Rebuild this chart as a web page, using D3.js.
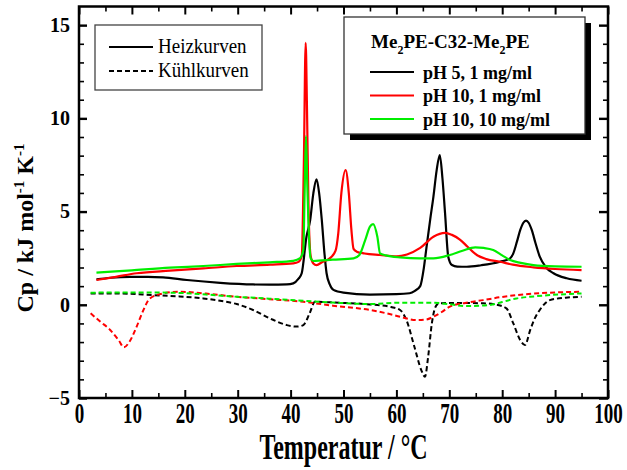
<!DOCTYPE html>
<html>
<head>
<meta charset="utf-8">
<script src="https://cdn.jsdelivr.net/npm/d3@7"></script>
<style>
  html, body { margin: 0; padding: 0; background: #fff; }
  svg { display: block; }
  text { font-family: "Liberation Serif", "Times New Roman", serif; }
</style>
</head>
<body>
<svg id="chart" width="627" height="470"></svg>
<script>
// ---- Data: DSC heat capacity curves (temperature in °C, Cp in kJ mol^-1 K^-1) ----

// Heating scans
const heatPH5T   = [3.3, 6, 9.6, 13, 15.9, 20.4, 26.7, 32.9, 36, 39.3, 40.5, 41.5, 42.1, 43.0, 43.7, 44.3, 44.9, 45.4, 45.9, 46.4, 46.8, 47.4, 48.1, 50, 55, 60, 62.5, 63.5, 64.5, 65.2, 65.7, 66.4, 67, 67.6, 68.2, 68.7, 69.2, 69.8, 70.5, 71.5, 73.3, 76, 79.6, 81.5, 82.1, 82.8, 83.4, 84, 84.5, 85, 85.6, 86.3, 87.1, 88.3, 89.7, 92.2, 95];
const heatPH5Cp  = [1.36, 1.45, 1.50, 1.50, 1.47, 1.33, 1.18, 1.09, 1.08, 1.09, 1.15, 1.40, 1.69, 3.65, 4.54, 5.98, 6.73, 5.98, 4.54, 2.76, 1.69, 1.10, 0.80, 0.65, 0.55, 0.57, 0.62, 0.75, 1.0, 2.0, 3.11, 4.6, 5.8, 7.2, 8.03, 6.8, 4.9, 2.58, 2.13, 2.05, 2.04, 2.12, 2.31, 2.49, 2.76, 3.4, 4.0, 4.4, 4.51, 4.4, 4.0, 3.3, 2.58, 2.0, 1.69, 1.42, 1.29];

const heatPH10aT  = [3.3, 7, 10.9, 17.2, 23.5, 29.8, 36.1, 40.5, 41.5, 42.1, 42.5, 42.85, 43.1, 43.4, 43.8, 44.3, 44.9, 46, 47.4, 48.5, 49.0, 49.6, 50.4, 51.0, 51.5, 51.9, 52.5, 54, 56.9, 60, 62, 64.5, 67, 69.2, 70.5, 72, 73.5, 75.2, 77, 79.6, 82, 85.9, 90, 95];
const heatPH10aCp = [1.33, 1.50, 1.69, 1.83, 1.95, 2.08, 2.15, 2.22, 2.30, 2.60, 7.5, 14.05, 10.5, 5.0, 2.6, 2.22, 2.13, 2.30, 2.49, 2.9, 3.8, 6.0, 7.22, 6.0, 4.0, 3.0, 2.85, 2.75, 2.67, 2.6, 2.7, 3.05, 3.65, 3.86, 3.75, 3.5, 3.1, 2.67, 2.45, 2.31, 2.15, 2.01, 1.92, 1.86];

const heatPH10bT  = [3.3, 10, 17.2, 23.5, 29.8, 36, 40.5, 41.8, 42.4, 42.65, 42.9, 43.15, 43.4, 43.8, 44.3, 48, 51.9, 53, 54.1, 55, 55.6, 56.4, 56.9, 58, 60.7, 64.5, 67, 70.1, 72.5, 74.9, 76.5, 78.3, 80, 81.5, 83.5, 85.9, 90, 95];
const heatPH10bCp = [1.72, 1.85, 1.99, 2.08, 2.19, 2.28, 2.36, 2.50, 2.94, 6.0, 9.05, 6.5, 4.19, 2.49, 2.35, 2.42, 2.49, 2.67, 3.47, 4.19, 4.33, 3.65, 2.76, 2.65, 2.54, 2.49, 2.49, 2.67, 2.9, 3.08, 3.05, 2.94, 2.65, 2.40, 2.25, 2.13, 2.06, 2.04];

// Cooling scans
const coolPH5T   = [2.2, 8, 14, 19, 23.5, 27, 29.8, 32.9, 36.1, 39.3, 41.2, 42.4, 43.6, 44.6, 46, 50, 55, 59, 60.7, 61.9, 63.4, 64.7, 65.4, 66, 66.7, 67.6, 68.2, 72, 76.4, 79, 80.8, 82.1, 83.4, 84.3, 85.3, 86.2, 87.1, 89, 92, 95];
const coolPH5Cp  = [0.61, 0.60, 0.52, 0.45, 0.34, 0.20, 0.04, -0.28, -0.73, -1.09, -1.17, -1.09, -0.46, 0.16, 0.15, 0.10, 0.02, -0.12, -0.28, -0.82, -2.25, -3.5, -3.86, -2.79, -1.0, -0.01, 0.08, 0.10, 0.08, 0.0, -0.19, -1.0, -1.89, -2.16, -1.35, -0.7, -0.28, 0.25, 0.38, 0.43];

const coolPH10aT  = [2.2, 4, 5.9, 7.5, 8.5, 9.5, 10.9, 12, 13.4, 15.9, 19.1, 24, 29.8, 36, 42.4, 48, 55, 58, 60.7, 63.8, 65.5, 67, 68.5, 70.1, 73, 76.4, 79.5, 82.7, 86, 89, 92, 95];
const coolPH10aCp = [-0.46, -0.9, -1.35, -1.9, -2.28, -2.0, -1.17, -0.4, 0.34, 0.61, 0.70, 0.60, 0.43, 0.30, 0.16, -0.05, -0.28, -0.45, -0.64, -0.82, -0.80, -0.64, -0.40, -0.10, 0.10, 0.25, 0.40, 0.52, 0.60, 0.65, 0.68, 0.70];

const coolPH10bT  = [2.2, 10, 17.2, 24, 29.8, 36, 42.4, 48, 55, 60.7, 67, 70, 73.3, 77.7, 80, 82.7, 86, 89, 92, 95];
const coolPH10bCp = [0.65, 0.66, 0.65, 0.55, 0.43, 0.33, 0.22, 0.12, 0.04, 0.11, 0.11, 0.03, -0.07, -0.01, 0.15, 0.34, 0.45, 0.52, 0.57, 0.61];

// Series labels and colours
const sampleNames  = ["pH 5, 1 mg/ml", "pH 10, 1 mg/ml", "pH 10, 10 mg/ml"];
const sampleColors = ["#000000", "#ff0000", "#00ee00"];
const scanNames    = ["Heizkurven", "Kühlkurven"];

// Axis ticks
const xMajorTicks = [0, 10, 20, 30, 40, 50, 60, 70, 80, 90, 100];
const xMinorTicks = [5, 15, 25, 35, 45, 55, 65, 75, 85, 95];
const yMajorTicks = [-5, 0, 5, 10, 15];
const yMinorTicks = [-4, -3, -2, -1, 1, 2, 3, 4, 6, 7, 8, 9, 11, 12, 13, 14];

// ---- Layout ----
const svg = d3.select("#chart");
const plotLeft = 79, plotRight = 608, plotTop = 6.5, plotBottom = 398;

const x = d3.scaleLinear().domain([0, 100]).range([plotLeft, plotRight]);
const y = d3.scaleLinear().domain([-5, 16]).range([plotBottom, plotTop]);

svg.append("rect").attr("width", 627).attr("height", 470).attr("fill", "#fff");

// ---- Curves ----
const zip = (ts, vs) => ts.map((t, i) => [t, vs[i]]);
const line = d3.line().x(d => x(d[0])).y(d => y(d[1])).curve(d3.curveMonotoneX);

const heating = [zip(heatPH5T, heatPH5Cp), zip(heatPH10aT, heatPH10aCp), zip(heatPH10bT, heatPH10bCp)];
const cooling = [zip(coolPH5T, coolPH5Cp), zip(coolPH10aT, coolPH10aCp), zip(coolPH10bT, coolPH10bCp)];

const curves = svg.append("g");
cooling.forEach((d, i) => {
  curves.append("path").datum(d).attr("d", line)
    .attr("fill", "none").attr("stroke", sampleColors[i])
    .attr("stroke-width", 2).attr("stroke-dasharray", "5,3");
});
heating.forEach((d, i) => {
  curves.append("path").datum(d).attr("d", line)
    .attr("fill", "none").attr("stroke", sampleColors[i])
    .attr("stroke-width", 2.2).attr("stroke-linejoin", "round");
});

// ---- Axes (ticks point inward on all four sides) ----
function styleAxis(g, w) {
  g.select(".domain").remove();
  g.selectAll(".tick line").attr("stroke", "#000").attr("stroke-width", w);
}

const xb = svg.append("g").attr("transform", `translate(0,${plotBottom})`)
  .call(d3.axisBottom(x).tickValues(xMajorTicks).tickSizeInner(-8).tickSizeOuter(0).tickFormat(d3.format("d")));
styleAxis(xb, 2);
xb.selectAll(".tick text")
  .attr("y", null).attr("dy", null)
  .attr("transform", "translate(0,25) scale(1,1.6)")
  .attr("fill", "#000")
  .style("font-family", '"Liberation Serif", serif')
  .style("font-weight", "bold").style("font-size", "19px");
styleAxis(svg.append("g").attr("transform", `translate(0,${plotBottom})`)
  .call(d3.axisBottom(x).tickValues(xMinorTicks).tickSizeInner(-5).tickSizeOuter(0).tickFormat("")), 1.6);

styleAxis(svg.append("g").attr("transform", `translate(0,${plotTop})`)
  .call(d3.axisTop(x).tickValues(xMajorTicks).tickSizeInner(-8).tickSizeOuter(0).tickFormat("")), 2);
styleAxis(svg.append("g").attr("transform", `translate(0,${plotTop})`)
  .call(d3.axisTop(x).tickValues(xMinorTicks).tickSizeInner(-5).tickSizeOuter(0).tickFormat("")), 1.6);

const yl = svg.append("g").attr("transform", `translate(${plotLeft},0)`)
  .call(d3.axisLeft(y).tickValues(yMajorTicks).tickSizeInner(-8).tickSizeOuter(0).tickPadding(9).tickFormat(d3.format("d")));
styleAxis(yl, 2.4);
yl.selectAll(".tick text")
  .attr("fill", "#000")
  .style("font-family", '"Liberation Serif", serif')
  .style("font-weight", "bold").style("font-size", "20px");
styleAxis(svg.append("g").attr("transform", `translate(${plotLeft},0)`)
  .call(d3.axisLeft(y).tickValues(yMinorTicks).tickSizeInner(-5).tickSizeOuter(0).tickFormat("")), 1.6);

styleAxis(svg.append("g").attr("transform", `translate(${plotRight},0)`)
  .call(d3.axisRight(y).tickValues(yMajorTicks).tickSizeInner(-9).tickSizeOuter(0).tickFormat("")), 2.4);
styleAxis(svg.append("g").attr("transform", `translate(${plotRight},0)`)
  .call(d3.axisRight(y).tickValues(yMinorTicks).tickSizeInner(-5).tickSizeOuter(0).tickFormat("")), 1.6);

// Frame
svg.append("rect")
  .attr("x", plotLeft).attr("y", plotTop)
  .attr("width", plotRight - plotLeft).attr("height", plotBottom - plotTop)
  .attr("fill", "none").attr("stroke", "#000").attr("stroke-width", 2.5);

// Axis titles
svg.append("text")
  .attr("transform", `translate(${(plotLeft + plotRight) / 2},459) scale(1,1.5)`)
  .attr("text-anchor", "middle")
  .style("font-weight", "bold").style("font-size", "24px")
  .text("Temperatur / °C");

const yt = svg.append("text")
  .attr("transform", "translate(33,228) rotate(-90)")
  .attr("text-anchor", "middle")
  .style("font-weight", "bold").style("font-size", "24px");
yt.append("tspan").text("Cp / kJ mol");
yt.append("tspan").attr("dy", -9).style("font-size", "15px").text("-1");
yt.append("tspan").attr("dy", 9).text(" K");
yt.append("tspan").attr("dy", -9).style("font-size", "15px").text("-1");

// ---- Legend: scan direction ----
const lg1 = svg.append("g");
lg1.append("rect").attr("x", 95).attr("y", 25).attr("width", 167).attr("height", 65)
  .attr("fill", "#fff").attr("stroke", "#444").attr("stroke-width", 1.3);
scanNames.forEach((name, i) => {
  const yy = 47 + i * 24;
  lg1.append("line").attr("x1", 109).attr("x2", 153).attr("y1", yy).attr("y2", yy)
    .attr("stroke", "#000").attr("stroke-width", 2)
    .attr("stroke-dasharray", i === 1 ? "5,3" : null);
  lg1.append("text").attr("transform", `translate(158,${yy + 6}) scale(1,1.1)`)
    .style("font-size", "19px").text(name);
});

// ---- Legend: samples ----
const lg2 = svg.append("g");
lg2.append("rect").attr("x", 350).attr("y", 23).attr("width", 241).attr("height", 117).attr("fill", "#000");
lg2.append("rect").attr("x", 344).attr("y", 17).attr("width", 241).attr("height", 117)
  .attr("fill", "#fff").attr("stroke", "#333").attr("stroke-width", 1.3);
const title = lg2.append("text").attr("x", 371).attr("y", 48)
  .style("font-weight", "bold").style("font-size", "19px");
title.append("tspan").text("Me");
title.append("tspan").attr("dy", 6).style("font-size", "12px").text("2");
title.append("tspan").attr("dy", -6).text("PE-C32-Me");
title.append("tspan").attr("dy", 6).style("font-size", "12px").text("2");
title.append("tspan").attr("dy", -6).text("PE");
sampleNames.forEach((name, i) => {
  const yy = 72 + i * 23.5;
  lg2.append("line").attr("x1", 370).attr("x2", 414).attr("y1", yy).attr("y2", yy)
    .attr("stroke", sampleColors[i]).attr("stroke-width", 2.2);
  lg2.append("text").attr("x", 423).attr("y", yy + 6.5)
    .style("font-weight", "bold").style("font-size", "18px").text(name);
});
</script>
</body>
</html>
